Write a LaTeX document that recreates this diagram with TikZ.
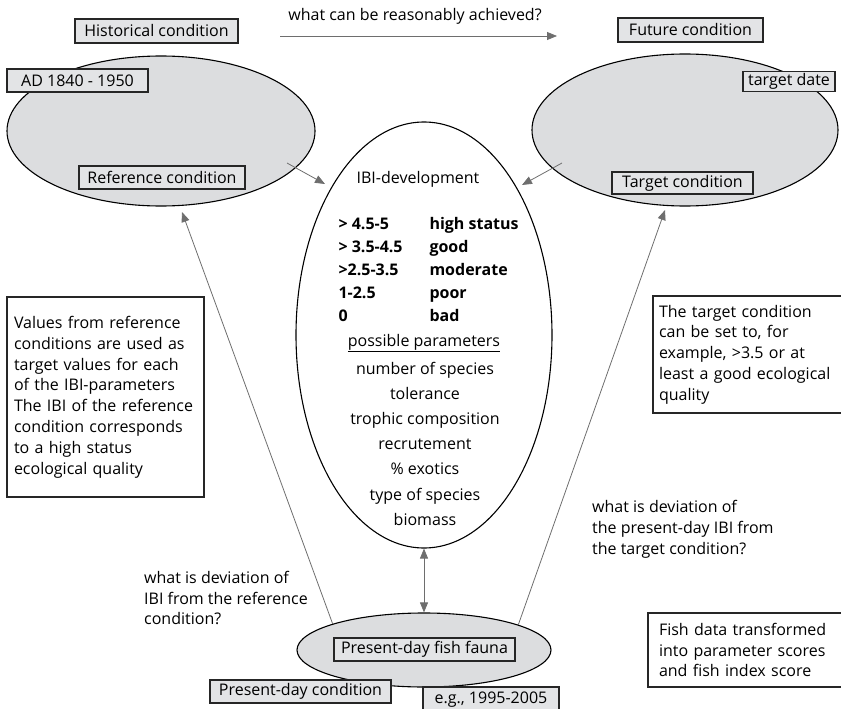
\documentclass[tikz,border=0pt]{standalone}
\usepackage{fontspec}
\setmainfont{Open Sans}
\usetikzlibrary{shapes.geometric}
\usetikzlibrary{arrows.meta}
\definecolor{boxgrey}{HTML}{E3E4E6}
\definecolor{ellgrey}{HTML}{DCDDDF}
\definecolor{linkgrey}{HTML}{6E6E6E}
\newcommand{\figfont}{\fontsize{16}{20.8}\selectfont}
\tikzset{
  every node/.style = {font = \figfont}
}
\tikzset{
  >={Triangle[length=10pt, width=8pt]}
}
\tikzset{
  label box/.style = {draw=black!85, line width=1.3pt, fill=boxgrey, inner sep=0pt}
}
\tikzset{
  period/.style = {ellipse, draw, line width=1.1pt, fill=ellgrey, inner sep=0pt}
}
\tikzset{
  note box/.style = {draw=black!85, line width=1.1pt, fill=white, align=left, inner ysep=0pt}
}
\tikzset{
  link/.style = {draw=linkgrey, line width=0.8pt}
}

\begin{document}
\begin{tikzpicture}[x=1pt, y=-1pt]
  \useasboundingbox (0,0) rectangle (841,709);

  \node[period, minimum width=308pt, minimum height=150pt] at (161,131) (histell) {};
  \node[period, minimum width=306pt, minimum height=152pt] at (685,130) (futell) {};
  \node[ellipse, draw, line width=1.1pt, fill=white, inner sep=0pt,
    minimum width=256pt, minimum height=426pt] at (424,335) (ibiell) {};
  \node[period, minimum width=254pt, minimum height=74pt] at (424,650) (faunaell) {};

  \node[anchor=base] at (415,21) (achieve) {what can be reasonably achieved?};
  \coordinate (achstart) at (280,36);
  \coordinate (achend) at (557,36);
  \draw[link,->] (achstart) -- (achend);

  \coordinate (histout) at (287,163);
  \coordinate (histin) at (325,184);
  \draw[link,->] (histout) -- (histin);
  \coordinate (futout) at (562,163);
  \coordinate (futin) at (522,185);
  \draw[link,->] (futout) -- (futin);

  \coordinate (refend) at (182,212);
  \coordinate (tgtend) at (665,210);
  \draw[link,->] (faunaell.164) -- (refend);
  \draw[link,->] (faunaell.15) -- (tgtend);
  \draw[link,<->] (ibiell.south) -- (faunaell.north);

  \node[label box, minimum width=163pt, minimum height=24pt] at (156.5,31) (histlabel) {Historical condition};
  \node[label box, minimum width=145pt, minimum height=24pt] at (690.5,30) (futlabel) {Future condition};
  \node[label box, minimum width=141pt, minimum height=23pt] at (77.5,80.5) (histdate) {AD 1840 - 1950};
  \node[label box, minimum width=166pt, minimum height=23pt] at (162,177.5) (reflabel) {Reference condition};
  \node[label box, minimum width=92pt, minimum height=20pt] at (789,81.5) (futdate) {target date};
  \node[label box, minimum width=141pt, minimum height=22pt] at (682.5,183) (tgtlabel) {Target condition};
  \node[label box, minimum width=181pt, minimum height=23pt] at (424.5,649.5) (faunalabel) {Present-day fish fauna};
  \node[label box, minimum width=181pt, minimum height=23pt] at (300.5,691.5) (presentlabel) {Present-day condition};
  \node[label box, minimum width=136pt, minimum height=25pt] at (491,699.5) (presentdate) {e.g., 1995-2005};

  \node[anchor=base] at (418,183) (ibititle) {IBI-development};
  \foreach \sc/\st [count=\i] in {> 4.5-5/high status, > 3.5-4.5/good, >2.5-3.5/moderate, 1-2.5/poor, 0/bad} {
    \node[anchor=base west, font=\figfont\bfseries] at (335,{229+23*(\i-1)}) (score\i) {\sc};
    \node[anchor=base west, font=\figfont\bfseries] at (426,{229+23*(\i-1)}) (status\i) {\st};
  }
  \node[anchor=base] at (424,346) (params) {\underline{possible parameters}};
  \foreach \prm [count=\i] in {number of species, tolerance, trophic composition, recrutement, \% exotics, type of species, biomass} {
    \node[anchor=base] at (425,{374+25.2*(\i-1)}) (param\i) {\prm};
  }

  \node[note box, inner xsep=7pt, text width=183pt, minimum height=200pt] at (105.5,397) (refnote)
    {Values from reference\\ conditions are used as\\ target values for each\\ of the IBI-parameters\\
     The IBI of the reference\\ condition corresponds\\ to a high status\\ ecological quality};
  \node[note box, inner xsep=6pt, text width=180pt, minimum height=117pt] at (749,354.5) (tgtnote)
    {The target condition\\ can be set to, for\\ example, >3.5 or at\\ least a good ecological\\ quality};
  \node[note box, inner xsep=11pt, text width=175pt, minimum height=74pt] at (746.5,650) (fishnote)
    {Fish data transformed\\ into parameter scores\\ and fish index score};

  \node[align=left, anchor=west, inner sep=0pt] at (144,598) (refdev)
    {what is deviation of\\ IBI from the reference\\ condition?};
  \node[align=left, anchor=west, inner sep=0pt] at (592,529) (tgtdev)
    {what is deviation of\\ the present-day IBI from\\ the target condition?};
\end{tikzpicture}
\end{document}
